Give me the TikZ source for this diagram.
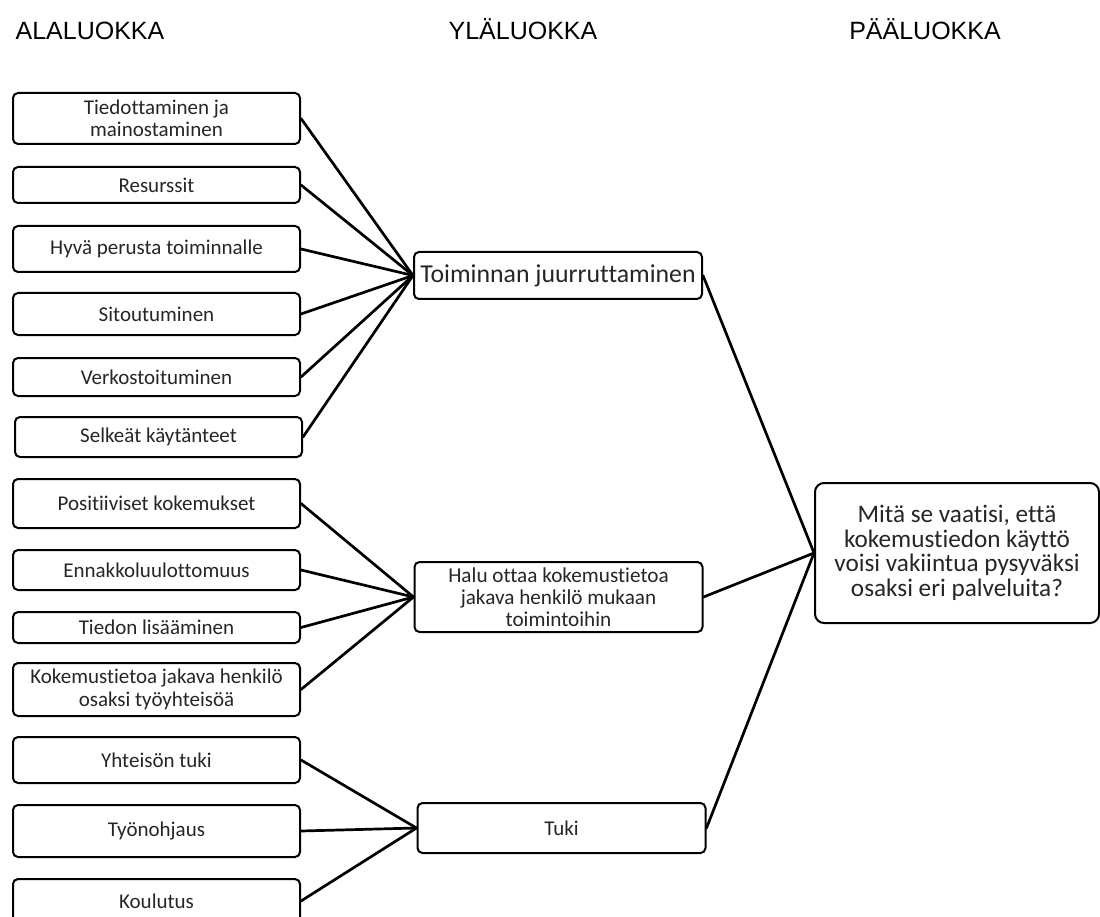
\documentclass[tikz,border=0pt]{standalone}
\usepackage{fontspec}
\newfontfamily\carl[Ligatures=NoCommon]{Carlito}
\newfontfamily\arialf{Liberation Sans}
\tikzset{
  box/.style={draw, line width=2pt, rounded corners=5pt, align=center, inner sep=0pt,
    font=\carl\fontsize{21}{22.5}\selectfont, text=black!85},
  leftbox/.style={box, minimum width=287pt},
  grpbox/.style={box, minimum width=288pt},
  conn/.style={line width=2.7pt, line cap=round},
  header/.style={anchor=base, font=\arialf\fontsize{25}{28}\selectfont, inner sep=0pt}
}
\begin{document}
\begin{tikzpicture}[x=1pt, y=-1pt]
\useasboundingbox (0,0) rectangle (1100,917);
\clip (0,0) rectangle (1100,917);
\fill[white] (0,0) rectangle (1100,917);
% headers
\node[header] (h1) at (90,40) {ALALUOKKA};
\node[header] (h2) at (523,40) {YLÄLUOKKA};
\node[header] (h3) at (925,40) {PÄÄLUOKKA};
% left boxes
\node[leftbox, minimum height=51pt] (a1) at (156.5,118.5) {Tiedottaminen ja\\mainostaminen};
\node[leftbox, minimum height=36pt] (a2) at (156.5,185) {Resurssit};
\node[leftbox, minimum height=46pt] (a3) at (156.5,249) {Hyvä perusta toiminnalle};
\node[leftbox, minimum height=42pt] (a4) at (156.5,314) {Sitoutuminen};
\node[leftbox, minimum height=38pt] (a5) at (156.5,377) {Verkostoituminen};
\node[leftbox, minimum height=40pt] (a6) at (158.5,437) {Selkeät käytänteet};
\node[leftbox, minimum height=49pt] (a7) at (156.5,503.5) {Positiiviset kokemukset};
\node[leftbox, minimum height=40pt] (a8) at (156.5,570) {Ennakkoluulottomuus};
\node[leftbox, minimum height=31pt] (a9) at (156.5,627.5) {Tiedon lisääminen};
\node[leftbox, minimum height=53pt] (a10) at (156.5,689.5) {Kokemustietoa jakava henkilö\\osaksi työyhteisöä};
\node[leftbox, minimum height=46pt] (a11) at (156.5,760) {Yhteisön tuki};
\node[leftbox, minimum height=52pt] (a12) at (156.5,831) {Työnohjaus};
\node[leftbox, minimum height=44pt] (a13) at (156.5,901) {Koulutus};
% group boxes
\node[grpbox, minimum height=47pt, font=\carl\fontsize{25.8}{28}\selectfont] (g1) at (558,275.5) {Toiminnan juurruttaminen};
\node[grpbox, minimum height=70pt, font=\carl\fontsize{21.2}{22}\selectfont] (g2) at (558.5,597) {Halu ottaa kokemustietoa\\jakava henkilö mukaan\\toimintoihin};
\node[grpbox, minimum height=50pt] (g3) at (561.5,828) {Tuki};
% main box
\node[box, minimum width=284pt, minimum height=140pt, rounded corners=9pt, font=\carl\fontsize{25.2}{24.5}\selectfont] (m) at (957,553) {Mitä se vaatisi, että\\kokemustiedon käyttö\\voisi vakiintua pysyväksi\\osaksi eri palveluita?};
% connectors
\foreach \i in {1,...,6} \draw[conn] (a\i.east) -- (g1.west);
\foreach \i in {7,...,10} \draw[conn] (a\i.east) -- (g2.west);
\foreach \i in {11,...,13} \draw[conn] (a\i.east) -- (g3.west);
\foreach \i in {1,2,3} \draw[conn] (g\i.east) -- (m.west);
\end{tikzpicture}
\end{document}
